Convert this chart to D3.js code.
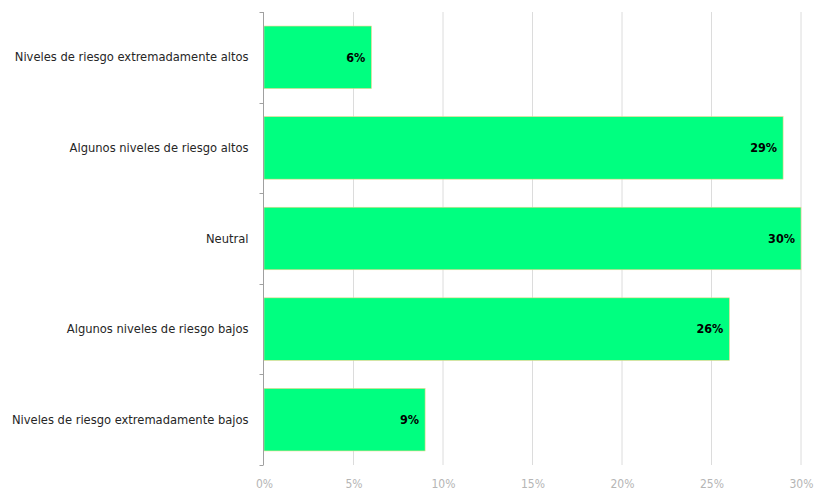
<!DOCTYPE html>
<html>
<head>
<meta charset="utf-8">
<script src="https://cdn.jsdelivr.net/npm/d3@7"></script>
<style>
  html, body { margin: 0; padding: 0; background: #fff; }
  svg { display: block; }
</style>
</head>
<body>
<svg id="chart" width="817" height="493"></svg>
<script>
const categories = [
  "Niveles de riesgo extremadamente altos",
  "Algunos niveles de riesgo altos",
  "Neutral",
  "Algunos niveles de riesgo bajos",
  "Niveles de riesgo extremadamente bajos"
];
const values = [6, 29, 30, 26, 9];
const tickValues = [0, 5, 10, 15, 20, 25, 30];

const svg = d3.select("#chart");
const x = d3.scaleLinear().domain([0, 30]).range([264, 801]);
const y = d3.scaleBand().domain(categories).range([12, 465]).paddingInner(0.31).paddingOuter(0.155);

const font = "'Liberation Sans Narrow', 'DejaVu Sans Condensed', 'Arial Narrow', sans-serif";

// gridlines
svg.append("g").selectAll("line").data(tickValues.slice(1)).join("line")
  .attr("x1", d => x(d)).attr("x2", d => x(d))
  .attr("y1", 12).attr("y2", 465)
  .attr("stroke", "#dcdcdc").attr("stroke-width", 1);

// x axis labels
const xAxis = d3.axisBottom(x).tickValues(tickValues).tickFormat(d => d + "%").tickSize(0);
const gx = svg.append("g").attr("transform", "translate(0,476)").call(xAxis);
gx.select(".domain").remove();
gx.selectAll("text").attr("font-family", font).attr("font-size", 12).attr("fill", "#b5b5b5");

// bars
svg.append("g").selectAll("rect").data(values).join("rect")
  .attr("x", x(0))
  .attr("y", (d, i) => y(categories[i]))
  .attr("width", d => x(d) - x(0))
  .attr("height", y.bandwidth())
  .attr("fill", "#00ff80")
  .attr("stroke", "#f2d48a").attr("stroke-width", 0.6);

// y axis
const yAxis = d3.axisLeft(y).tickSize(0).tickPadding(15);
const gy = svg.append("g").attr("transform", "translate(263.5,0)").call(yAxis);
gy.select(".domain").attr("stroke", "#a0a0a0").attr("d", "M0,12V465");
gy.selectAll("text").attr("font-family", font).attr("font-size", 12.8).attr("fill", "#262626");
// boundary ticks
const bounds = d3.range(6).map(i => 12 + i * y.step());
svg.append("g").selectAll("line").data(bounds).join("line")
  .attr("x1", 259.5).attr("x2", 263.5)
  .attr("y1", d => Math.round(d) + 0.5).attr("y2", d => Math.round(d) + 0.5)
  .attr("stroke", "#a0a0a0");

// value labels
svg.append("g").selectAll("text").data(values).join("text")
  .attr("x", d => x(d) - 6)
  .attr("y", (d, i) => y(categories[i]) + y.bandwidth() / 2)
  .attr("dy", "0.35em")
  .attr("text-anchor", "end")
  .attr("font-family", font)
  .attr("font-weight", "bold")
  .attr("font-size", 12.5)
  .attr("fill", "#000")
  .text(d => d + "%");
</script>
</body>
</html>
